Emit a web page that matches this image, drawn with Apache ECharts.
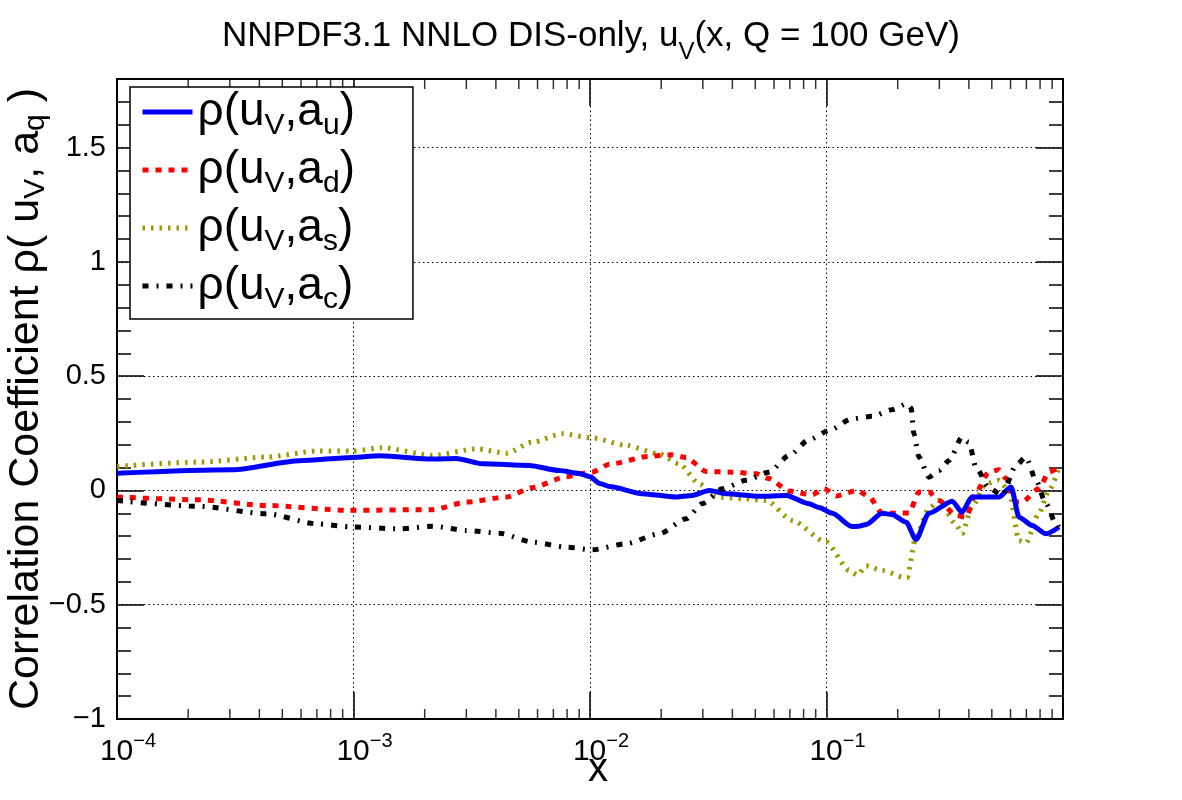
<!DOCTYPE html>
<html>
<head>
<meta charset="utf-8">
<script src="https://cdn.jsdelivr.net/npm/echarts@6/dist/echarts.min.js"></script>
<style>
  html, body { margin: 0; padding: 0; background: #fff; }
  #charts { width: 1182px; height: 800px; }
</style>
</head>
<body>
<div id="charts"></div>
<script>
// rho(u_V, a_u)
var xU = [1.0e-4, 3.08e-4, 5.92e-4, 9.9e-4, 1.29e-3, 2.16e-3, 2.72e-3, 3.51e-3, 5.53e-3, 7.41e-3, 9.02e-3, 1.0e-2, 1.10e-2, 1.21e-2, 1.66e-2, 2.31e-2, 2.70e-2, 3.19e-2, 3.77e-2, 5.19e-2, 6.75e-2, 8.43e-2, 9.3e-2, 0.1057, 0.128, 0.137, 0.147, 0.172, 0.189, 0.217, 0.239, 0.271, 0.340, 0.374, 0.412, 0.536, 0.603, 0.652, 0.740, 0.847, 0.962];
var yU = [0.075, 0.09, 0.13, 0.144, 0.152, 0.137, 0.14, 0.117, 0.109, 0.087, 0.074, 0.06, 0.03, 0.017, -0.014, -0.029, -0.022, 0.0, -0.014, -0.026, -0.022, -0.058, -0.075, -0.1, -0.158, -0.157, -0.149, -0.1, -0.105, -0.139, -0.215, -0.1, -0.047, -0.095, -0.029, -0.029, 0.015, -0.117, -0.153, -0.19, -0.16];

// rho(u_V, a_d)
var xD = [1.0e-4, 2.23e-4, 4.29e-4, 9.6e-4, 2.16e-3, 3.0e-3, 4.43e-3, 5.70e-3, 7.94e-3, 1.02e-2, 1.21e-2, 1.78e-2, 2.22e-2, 2.55e-2, 3.10e-2, 3.99e-2, 5.04e-2, 5.71e-2, 6.95e-2, 8.69e-2, 9.77e-2, 0.110, 0.135, 0.151, 0.172, 0.197, 0.223, 0.246, 0.271, 0.299, 0.352, 0.389, 0.429, 0.486, 0.536, 0.574, 0.632, 0.670, 0.791, 0.873, 0.962];
var yD = [-0.029, -0.041, -0.066, -0.087, -0.084, -0.051, -0.029, 0.012, 0.06, 0.08, 0.115, 0.149, 0.156, 0.144, 0.083, 0.08, 0.073, 0.052, -0.003, -0.019, 0.008, -0.024, 0.0, -0.026, -0.1, -0.099, -0.099, -0.007, -0.007, -0.044, -0.109, -0.117, -0.007, 0.08, 0.09, 0.052, -0.051, -0.051, 0.008, 0.08, 0.105];

// rho(u_V, a_s)
var xS = [1.0e-4, 2.23e-4, 4.29e-4, 6.98e-4, 9.9e-4, 1.32e-3, 2.16e-3, 3.31e-3, 4.43e-3, 5.70e-3, 7.64e-3, 1.02e-2, 1.42e-2, 1.96e-2, 2.38e-2, 2.90e-2, 3.41e-2, 4.40e-2, 5.56e-2, 7.16e-2, 9.95e-2, 0.125, 0.135, 0.147, 0.172, 0.213, 0.219, 0.239, 0.271, 0.299, 0.352, 0.374, 0.412, 0.472, 0.536, 0.590, 0.652, 0.697, 0.791, 0.873, 0.962];
var yS = [0.105, 0.124, 0.146, 0.172, 0.172, 0.187, 0.153, 0.182, 0.163, 0.211, 0.248, 0.23, 0.197, 0.16, 0.117, 0.029, -0.029, -0.036, -0.044, -0.131, -0.226, -0.35, -0.37, -0.33, -0.35, -0.38, -0.38, -0.2, -0.08, -0.044, -0.146, -0.19, -0.073, 0.029, 0.044, 0.0, -0.22, -0.23, -0.1, 0.0, 0.1];

// rho(u_V, a_c)
var xC = [1.0e-4, 2.23e-4, 4.29e-4, 6.98e-4, 9.9e-4, 1.56e-3, 2.16e-3, 3.0e-3, 4.14e-3, 5.70e-3, 7.94e-3, 1.02e-2, 1.42e-2, 1.96e-2, 2.55e-2, 2.98e-2, 3.62e-2, 4.57e-2, 5.71e-2, 6.95e-2, 8.43e-2, 0.1026, 0.128, 0.156, 0.189, 0.219, 0.228, 0.234, 0.246, 0.271, 0.299, 0.330, 0.374, 0.400, 0.429, 0.486, 0.552, 0.632, 0.697, 0.769, 0.847, 0.933, 0.962];
var yC = [-0.044, -0.07, -0.102, -0.146, -0.16, -0.168, -0.157, -0.175, -0.187, -0.226, -0.248, -0.26, -0.233, -0.19, -0.124, -0.058, 0.007, 0.044, 0.08, 0.153, 0.222, 0.262, 0.314, 0.324, 0.353, 0.379, 0.36, 0.248, 0.146, 0.058, 0.087, 0.131, 0.233, 0.211, 0.1, 0.012, -0.022, 0.109, 0.146, 0.044, -0.058, -0.146, -0.16];

var seriesNames = ['ρ(uV,au)', 'ρ(uV,ad)', 'ρ(uV,as)', 'ρ(uV,ac)'];
var seriesSubs = ['u', 'd', 's', 'c'];

// log-axis minor tick positions (2..9 in each decade)
var decades = [1e-4, 1e-3, 1e-2, 1e-1];
var mantissas = [2, 3, 4, 5, 6, 7, 8, 9];

var FONT = '"Liberation Sans", Arial, Helvetica, sans-serif';

function pairs(xs, ys) {
    var out = [];
    for (var i = 0; i < xs.length; i++) out.push([xs[i], ys[i]]);
    return out;
}

var minorBottom = [], minorTop = [];
decades.forEach(function (d) {
    mantissas.forEach(function (m) {
        minorBottom.push([d * m, -1]);
        minorTop.push([d * m, 1.8]);
    });
});

function yAxisCfg(pos, interval, tickLen, labels, split, name) {
    var ax = {
        type: 'value', position: pos, min: -1, max: 1.8, interval: interval,
        axisLine: { show: true, onZero: false, lineStyle: { color: '#000', width: 2 } },
        axisTick: { show: true, inside: true, length: tickLen, lineStyle: { color: '#000', width: 1.5 } },
        axisLabel: labels ? {
            show: true, fontSize: 29, color: '#000', fontFamily: FONT, margin: 11,
            showMaxLabel: false,
            formatter: function (v) { return String(v).replace('-', '\u2212'); }
        } : { show: false },
        splitLine: split ? { show: true, lineStyle: { color: '#000', width: 1, type: [1.5, 3] } } : { show: false }
    };
    if (name) {
        ax.name = '{m|Correlation Coefficient ρ( u}{s|V}{m|, a}{s|q}{m| )}';
        ax.nameLocation = 'middle';
        ax.nameGap = 66;
        ax.nameMoveOverlap = false;
        ax.nameTextStyle = {
            rich: {
                m: { fontSize: 43, fontFamily: FONT, color: '#000', lineHeight: 50 },
                s: { fontSize: 30, fontFamily: FONT, color: '#000', lineHeight: 24, verticalAlign: 'bottom' }
            }
        };
    }
    return ax;
}

var myChart = echarts.init(document.getElementById('charts'));
var option = {
    backgroundColor: '#fff',
    animation: false,
    title: {
        text: '{t|NNPDF3.1 NNLO DIS-only, u}{s|V}{t|(x, Q = 100 GeV)}',
        left: 'center',
        top: 3,
        textStyle: {
            fontWeight: 'normal',
            rich: {
                t: { fontSize: 35, fontFamily: FONT, color: '#000', lineHeight: 56, fontWeight: 'normal' },
                s: { fontSize: 24, fontFamily: FONT, color: '#000', lineHeight: 12, verticalAlign: 'bottom', fontWeight: 'normal' }
            }
        }
    },
    grid: {
        left: 117, right: 119, top: 79, bottom: 81,
        show: true, borderColor: '#000', borderWidth: 2,
        containLabel: false, outerBoundsMode: 'none'
    },
    legend: {
        data: seriesNames,
        orient: 'vertical',
        left: 130, top: 87,
        padding: [2, 58, 4, 10],
        itemGap: 6,
        itemWidth: 50,
        itemHeight: 20,
        backgroundColor: '#fff',
        borderColor: '#000',
        borderWidth: 1.5,
        itemStyle: { opacity: 0 },
        lineStyle: { width: 5 },
        formatter: function (name) {
            var q = seriesSubs[seriesNames.indexOf(name)];
            return '{m|ρ(u}{s|V}{m|,a}{s|' + q + '}{m|)}';
        },
        textStyle: {
            rich: {
                m: { fontSize: 46, fontFamily: FONT, color: '#000', lineHeight: 58 },
                s: { fontSize: 30, fontFamily: FONT, color: '#000', lineHeight: 20, verticalAlign: 'bottom' }
            }
        }
    },
    xAxis: [
        {
            type: 'log', min: 1e-4, max: 1, logBase: 10, position: 'bottom',
            name: 'x', nameLocation: 'middle', nameGap: 31, nameMoveOverlap: false,
            nameTextStyle: { fontSize: 40, fontFamily: FONT, color: '#000', padding: [0, 0, 0, 16] },
            axisLine: { show: true, onZero: false, lineStyle: { color: '#000', width: 2 } },
            axisTick: { show: true, inside: true, length: 27, lineStyle: { color: '#000', width: 1.5 } },
            axisLabel: {
                show: true, margin: 12, color: '#000',
                formatter: function (v) {
                    var e = Math.round(Math.log10(v));
                    if (e === 0) return '';
                    return '{p|}{b|10}{e|\u2212' + (-e) + '}';
                },
                rich: {
                    p: { width: 22 },
                    b: { fontSize: 30, fontFamily: FONT, color: '#000', lineHeight: 42 },
                    e: { fontSize: 20, fontFamily: FONT, color: '#000', lineHeight: 20, verticalAlign: 'top' }
                }
            },
            splitLine: { show: true, lineStyle: { color: '#000', width: 1, type: [1.5, 3] } }
        },
        {
            type: 'log', min: 1e-4, max: 1, logBase: 10, position: 'top',
            axisLine: { show: true, onZero: false, lineStyle: { color: '#000', width: 2 } },
            axisTick: { show: true, inside: true, length: 27, lineStyle: { color: '#000', width: 1.5 } },
            axisLabel: { show: false },
            splitLine: { show: false }
        }
    ],
    yAxis: [
        yAxisCfg('left', 0.5, 27, true, true, true),
        yAxisCfg('left', 0.1, 14, false, false, false),
        yAxisCfg('right', 0.5, 27, false, false, false),
        yAxisCfg('right', 0.1, 14, false, false, false)
    ],
    series: [
        {
            name: seriesNames[0], type: 'line', data: pairs(xU, yU),
            showSymbol: false, symbol: 'none', smooth: 0.25, smoothMonotone: 'x', z: 5,
            lineStyle: { color: '#0000ff', width: 5, type: 'solid' },
            itemStyle: { color: '#0000ff' }
        },
        {
            name: seriesNames[1], type: 'line', data: pairs(xD, yD),
            showSymbol: false, symbol: 'none', smooth: 0.25, smoothMonotone: 'x', z: 4,
            lineStyle: { color: '#ff0000', width: 5, type: [6, 7] },
            itemStyle: { color: '#ff0000' }
        },
        {
            name: seriesNames[2], type: 'line', data: pairs(xS, yS),
            showSymbol: false, symbol: 'none', smooth: 0.25, smoothMonotone: 'x', z: 3,
            lineStyle: { color: '#999900', width: 5, type: [2.5, 6] },
            itemStyle: { color: '#999900' }
        },
        {
            name: seriesNames[3], type: 'line', data: pairs(xC, yC),
            showSymbol: false, symbol: 'none', smooth: 0.25, smoothMonotone: 'x', z: 6,
            lineStyle: { color: '#000000', width: 5, type: [6, 8, 2, 8] },
            itemStyle: { color: '#000000' }
        },
        {
            type: 'scatter', data: minorBottom, silent: true, clip: false,
            symbol: 'rect', symbolSize: [1.5, 10], symbolOffset: [0, -5],
            itemStyle: { color: '#000' }, z: 2
        },
        {
            type: 'scatter', data: minorTop, silent: true, clip: false,
            symbol: 'rect', symbolSize: [1.5, 10], symbolOffset: [0, 5],
            itemStyle: { color: '#000' }, z: 2
        }
    ]
};

myChart.setOption(option);
</script>
</body>
</html>
